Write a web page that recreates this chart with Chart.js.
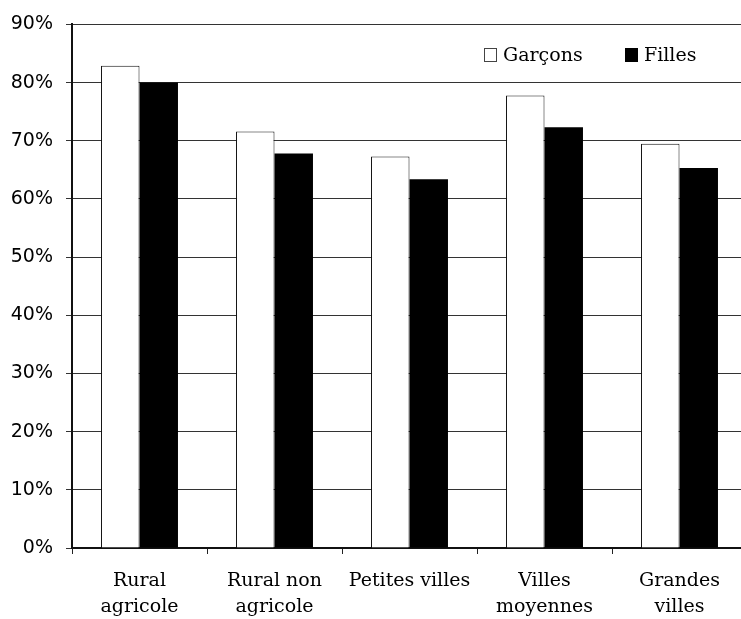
<!DOCTYPE html>
<html>
<head>
<meta charset="utf-8">
<script src="https://cdn.jsdelivr.net/npm/chart.js@4.4.1/dist/chart.umd.min.js"></script>
<style>
  html, body { margin: 0; padding: 0; background: #fff; overflow: hidden; }
  #chart { display: block; }
</style>
</head>
<body>
<canvas id="chart" width="760" height="619"></canvas>
<script>
// ── DATA ──────────────────────────────────────────────────────────────────────
const categories = [
  ['Rural', 'agricole'],
  ['Rural non', 'agricole'],
  ['Petites villes'],
  ['Villes', 'moyennes'],
  ['Grandes', 'villes'],
];
const seriesNames = ['Garçons', 'Filles'];
const garcons = [82.9, 71.6, 67.3, 77.8, 69.5];
const filles  = [80.0, 67.8, 63.4, 72.3, 65.3];
const yTicksMax = 90;

// ── LEGEND (drawn inside the plot, top right) ────────────────────────────────
const legendPlugin = {
  id: 'insideLegend',
  afterDatasetsDraw(chart) {
    const { ctx, chartArea: { left } } = chart;
    const items = [
      { x: left + 412, fill: '#fff', stroke: '#444' },
      { x: left + 553, fill: '#000', stroke: '#000' },
    ];
    ctx.save();
    ctx.font = "19px 'DejaVu Serif'";
    ctx.textBaseline = 'alphabetic';
    ctx.textAlign = 'left';
    items.forEach((it, i) => {
      ctx.fillStyle = it.fill;
      ctx.fillRect(it.x, 48, 13, 14);
      ctx.strokeStyle = it.stroke;
      ctx.lineWidth = 1;
      ctx.strokeRect(it.x + 0.5, 48.5, 12, 13);
      ctx.fillStyle = '#000';
      ctx.fillText(chart.data.datasets[i].label, it.x + 19, 61);
    });
    ctx.restore();
  }
};

new Chart(document.getElementById('chart'), {
  type: 'bar',
  data: {
    labels: categories,
    datasets: [
      { label: seriesNames[0], data: garcons, backgroundColor: '#fff', borderColor: '#111', borderWidth: 1,
        categoryPercentage: 0.57, barPercentage: 1.0 },
      { label: seriesNames[1], data: filles, backgroundColor: '#000', borderColor: '#000', borderWidth: 0,
        categoryPercentage: 0.57, barPercentage: 1.0 },
    ]
  },
  options: {
    responsive: false,
    devicePixelRatio: 1,
    animation: false,
    layout: { padding: { left: 0, right: 13, top: 23, bottom: 0 } },
    plugins: { legend: { display: false }, tooltip: { enabled: false } },
    scales: {
      x: {
        grid: { drawOnChartArea: false, drawTicks: true, tickLength: 6, color: '#222', offset: true },
        border: { color: '#111', width: 2 },
        ticks: { color: '#000', padding: 15, maxRotation: 0, autoSkip: false,
                 font: { family: "'DejaVu Serif'", size: 19, lineHeight: 1.32 } },
        afterFit(scale) { scale.height = 71; }
      },
      y: {
        min: 0, max: yTicksMax,
        grid: { color: '#333', lineWidth: 1, tickLength: 6 },
        border: { color: '#111', width: 2 },
        ticks: { stepSize: 10, color: '#000', padding: 13,
                 font: { family: "'DejaVu Sans'", size: 19 },
                 callback: v => v + '%' },
        afterFit(scale) { scale.width = 72; }
      }
    }
  },
  plugins: [legendPlugin]
});
</script>
</body>
</html>
